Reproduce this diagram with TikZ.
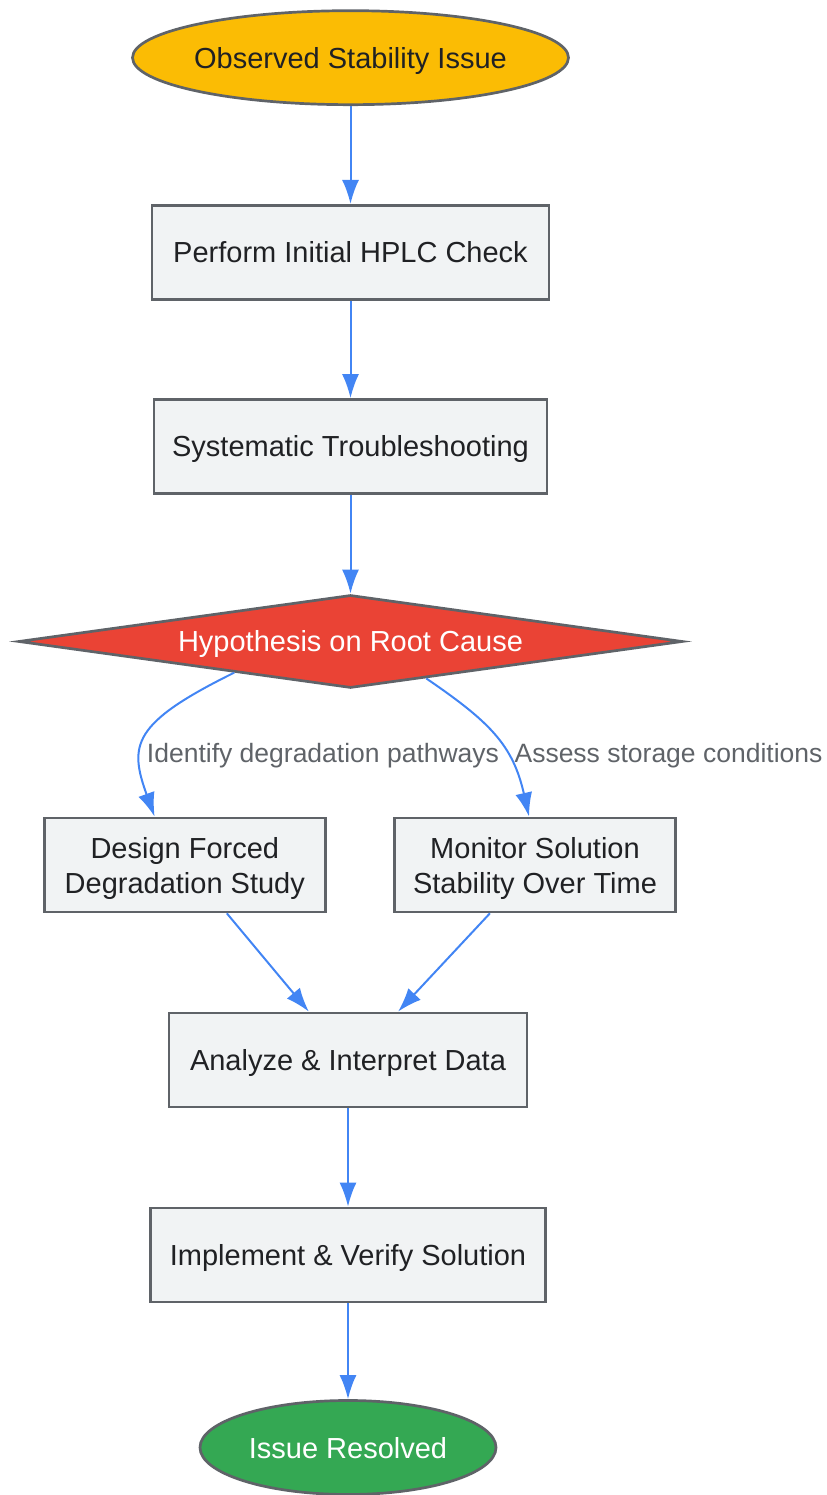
\documentclass[tikz,border=0pt]{standalone}
\usepackage{fontspec}
\setmainfont{Liberation Sans}
\usetikzlibrary{shapes.geometric,arrows.meta}
\definecolor{strokegray}{HTML}{5F6368}
\definecolor{boxfill}{HTML}{F1F3F4}
\definecolor{startfill}{HTML}{FBBC04}
\definecolor{hypfill}{HTML}{EA4335}
\definecolor{endfill}{HTML}{34A853}
\definecolor{flowblue}{HTML}{4285F4}
\definecolor{textdark}{HTML}{202124}
\begin{document}
\begin{tikzpicture}[>={Latex[length=24bp,width=17bp]},
  base/.style={draw=strokegray,line width=2.7bp,inner sep=0pt,text=textdark,align=center,font=\fontsize{29bp}{35bp}\selectfont},
  oneline/.style={text height=21bp,text depth=0bp},
  twoline/.style={text height=56.2bp,text depth=0bp},
  procbox/.style={base,rectangle,fill=boxfill,minimum height=94bp},
  term/.style={base,ellipse,inner xsep=-20bp,minimum height=94bp},
  decision/.style={base,diamond,shape aspect=7.16,fill=hypfill,text=white,minimum width=664bp,minimum height=93bp},
  flow/.style={flowblue,line width=2bp,->},
  edgelbl/.style={text=strokegray,inner sep=0pt,text height=19bp,text depth=0bp,font=\fontsize{26.5bp}{32bp}\selectfont}]
%%
\useasboundingbox (0bp,0bp) rectangle (827bp,1495bp);
\node (node_start) at (350.5bp,1437.3bp) [term,oneline,fill=startfill,minimum width=436bp] {Observed Stability Issue};
  \node (node_hplc) at (350.5bp,1242.7bp) [procbox,oneline,minimum width=397bp] {Perform Initial HPLC Check};
  \node (node_trouble) at (350.5bp,1048.5bp) [procbox,oneline,minimum width=393bp] {Systematic Troubleshooting};
  \node (node_hyp) at (350.5bp,853.5bp) [decision,oneline] {Hypothesis on Root Cause};
  \node (node_degrade) at (184.8bp,630bp) [procbox,twoline,minimum width=281bp] {Design Forced\\Degradation Study};
  \node (node_monitor) at (535bp,630bp) [procbox,twoline,minimum width=281bp] {Monitor Solution\\Stability Over Time};
  \node (node_analyze) at (348bp,435bp) [procbox,oneline,minimum width=358bp] {Analyze \& Interpret Data};
  \node (node_impl) at (348bp,240bp) [procbox,oneline,minimum width=395bp] {Implement \& Verify Solution};
  \node (node_end) at (348bp,47.5bp) [term,oneline,fill=endfill,text=white,minimum width=296bp] {Issue Resolved};
  \node (lbl_identify) at (323bp,741.8bp) [edgelbl] {Identify degradation pathways};
  \node (lbl_assess) at (668.5bp,741.8bp) [edgelbl] {Assess storage conditions};
%%
  \draw [flow] (node_start) -- (node_hplc);
  \draw [flow] (node_hplc) -- (node_trouble);
  \draw [flow] (node_trouble) -- (node_hyp);
  \draw [flow] (node_hyp.195) ..controls (131.7bp,771.7bp) and (128.8bp,750bp) .. (node_degrade.122.2);
  \draw [flow] (node_hyp.334.3) ..controls (490bp,773bp) and (512.9bp,750bp) .. (node_monitor.97.6);
  \draw [flow] (node_degrade.311.3) -- (node_analyze.129.1);
  \draw [flow] (node_monitor.227.5) -- (node_analyze.44.4);
  \draw [flow] (node_analyze) -- (node_impl);
  \draw [flow] (node_impl) -- (node_end);
%
\end{tikzpicture}
\end{document}
